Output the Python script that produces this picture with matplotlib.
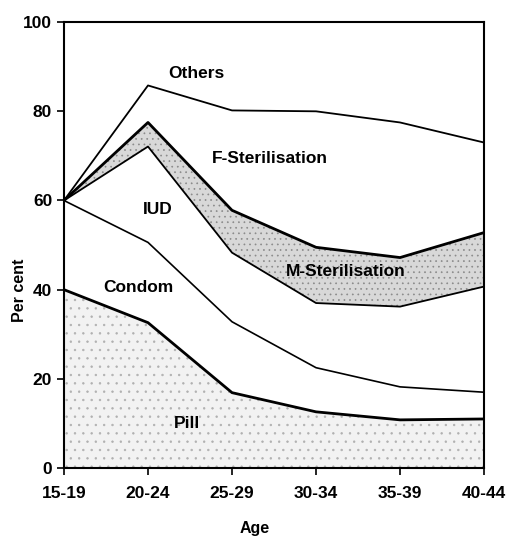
import numpy as np
import matplotlib
matplotlib.use("Agg")
import matplotlib.pyplot as plt

plt.rcParams['font.family'] = ['Liberation Sans', 'DejaVu Sans']
plt.rcParams['font.weight'] = 'bold'
plt.rcParams['hatch.linewidth'] = 0.5

ages = ["15-19", "20-24", "25-29", "30-34", "35-39", "40-44"]

# cumulative upper boundaries (per cent)
pill = [40, 32.6, 16.9, 12.6, 10.8, 11.0]
condom = [60, 50.6, 32.8, 22.5, 18.2, 17.0]
iud = [60, 72.1, 48.3, 37.0, 36.2, 40.7]
m_ster = [60, 77.5, 57.8, 49.5, 47.2, 52.8]
f_ster = [60, 85.8, 80.2, 80.0, 77.5, 73.0]

x = np.arange(len(ages))

fig = plt.figure(figsize=(5.09, 5.40), dpi=100)
ax = fig.add_axes([0.1257, 0.1333, 0.8253, 0.8257])

# stippled areas
ax.fill_between(x, 0, pill, facecolor="#f2f2f2", edgecolor="#b0b0b0",
                hatch="..", linewidth=0)
ax.fill_between(x, iud, m_ster, facecolor="#d8d8d8", edgecolor="#8a8a8a",
                hatch="...", linewidth=0)

ax.plot(x, pill, color="black", lw=2.0)
ax.plot(x, condom, color="black", lw=1.2)
ax.plot(x, iud, color="black", lw=1.3)
ax.plot(x, m_ster, color="black", lw=2.0)
ax.plot(x, f_ster, color="black", lw=1.3)

labels = [("Others", 1.58, 88.5), ("F-Sterilisation", 2.45, 69.5),
          ("IUD", 1.12, 58), ("M-Sterilisation", 3.35, 44),
          ("Condom", 0.88, 40.5), ("Pill", 1.47, 10)]
for txt, lx, ly in labels:
    ax.text(lx, ly, txt, ha="center", va="center", fontsize=12.5,
            fontweight="bold")

ax.set_xlim(0, 5)
ax.set_ylim(0, 100)
ax.set_xticks(x)
ax.set_xticklabels(ages)
ax.set_yticks([0, 20, 40, 60, 80, 100])
ax.tick_params(direction="out", length=5, width=1.2, labelsize=12.5)
ax.tick_params(axis="x", pad=8)
for s in ax.spines.values():
    s.set_linewidth(1.5)

fig.text(20 / 509, 1 - 290 / 540, "Per cent", rotation=90, ha="center",
         va="center", fontsize=11.5, fontweight="bold")
fig.text(255 / 509, 1 - 528 / 540, "Age", ha="center", va="center",
         fontsize=11.5, fontweight="bold")

fig.savefig("out.png", dpi=100)
